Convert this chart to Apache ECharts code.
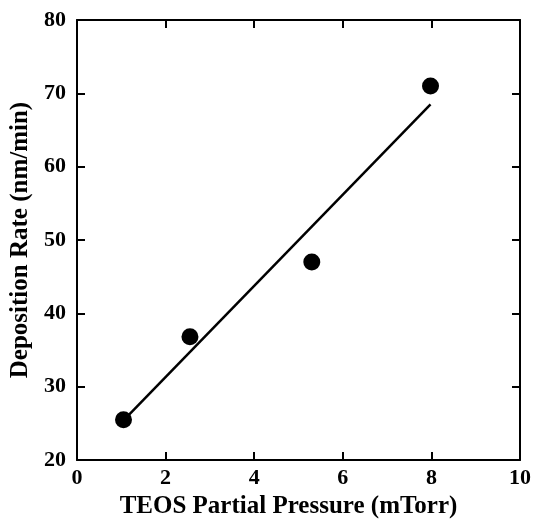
<!DOCTYPE html>
<html>
<head>
<meta charset="utf-8">
<script src="https://cdn.jsdelivr.net/npm/echarts@6/dist/echarts.min.js"></script>
<style>
  html, body { margin: 0; padding: 0; background: #fff; }
  #main { width: 535px; height: 527px; }
</style>
</head>
<body>
<div id="main"></div>
<script>
// measured points
var pressure = [1.05, 2.55, 5.3, 7.98];
var rate = [25.5, 36.8, 47, 71];
// fitted line end points
var fitX = [1.05, 7.98];
var fitY = [25.4, 68.5];

var xTicks = [0, 2, 4, 6, 8, 10];
var yTicks = [20, 30, 40, 50, 60, 70, 80];

var font = 'Liberation Serif';

var myChart = echarts.init(document.getElementById('main'));

var axisBase = {
  axisLine: { show: true, onZero: false, lineStyle: { color: '#000', width: 2 } },
  axisTick: { show: true, inside: true, length: 8, lineStyle: { color: '#000', width: 2 } },
  splitLine: { show: false }
};

myChart.setOption({
  animation: false,
  grid: { left: 77, right: 15, top: 20, bottom: 67 },
  xAxis: [
    Object.assign({
      type: 'value', min: xTicks[0], max: xTicks[xTicks.length - 1], interval: 2,
      name: 'TEOS Partial Pressure (mTorr)',
      nameLocation: 'middle', nameGap: 33,
      nameTextStyle: { fontFamily: font, fontWeight: 'bold', fontSize: 25, color: '#000', padding: [0, 20, 0, 0] },
      axisLabel: { fontFamily: font, fontWeight: 'bold', fontSize: 22, color: '#000', margin: 7 }
    }, axisBase),
    Object.assign({
      type: 'value', position: 'top', min: 0, max: 10, interval: 2,
      axisLabel: { show: false }
    }, axisBase)
  ],
  yAxis: [
    Object.assign({
      type: 'value', min: yTicks[0], max: yTicks[yTicks.length - 1], interval: 10,
      name: 'Deposition Rate (nm/min)',
      nameLocation: 'middle', nameGap: 42,
      nameTextStyle: { fontFamily: font, fontWeight: 'bold', fontSize: 25, color: '#000' },
      axisLabel: { fontFamily: font, fontWeight: 'bold', fontSize: 22, color: '#000', margin: 11 }
    }, axisBase),
    Object.assign({
      type: 'value', position: 'right', min: 20, max: 80, interval: 10,
      axisLabel: { show: false }
    }, axisBase)
  ],
  series: [
    {
      type: 'line',
      data: fitX.map(function (x, i) { return [x, fitY[i]]; }),
      symbol: 'none',
      lineStyle: { color: '#000', width: 2.5 },
      silent: true
    },
    {
      type: 'scatter',
      data: pressure.map(function (x, i) { return [x, rate[i]]; }),
      symbol: 'circle',
      symbolSize: 17,
      itemStyle: { color: '#000', opacity: 1 }
    }
  ]
});
</script>
</body>
</html>
